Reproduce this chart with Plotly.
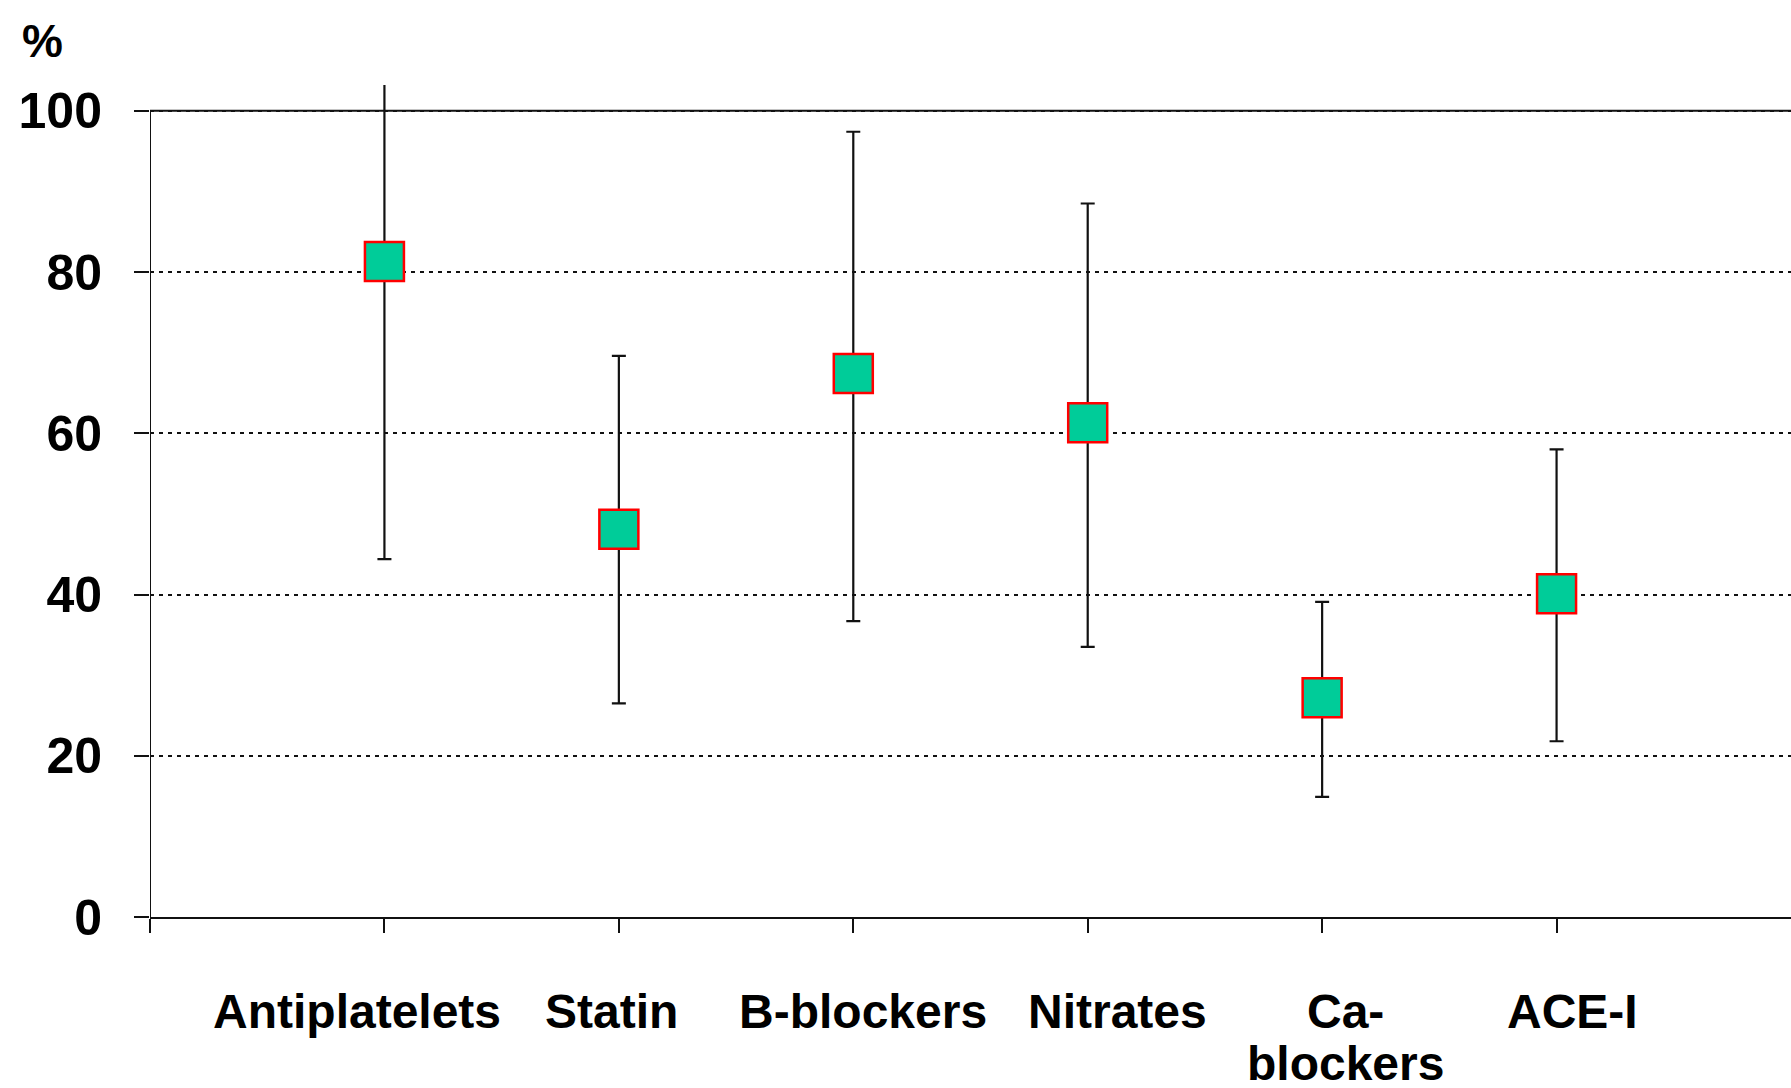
import plotly.graph_objects as go

# Drug classes and their percentage with lower / upper range limits
categories = ["Antiplatelets", "Statin", "B-blockers", "Nitrates", "Ca-\nblockers", "ACE-I"]
mean_pct = [81.3, 48.1, 67.4, 61.3, 27.2, 40.1]
upper_pct = [104.0, 69.6, 97.4, 88.5, 39.1, 58.0]
lower_pct = [44.4, 26.5, 36.7, 33.5, 14.9, 21.8]
y_ticks = [0, 20, 40, 60, 80, 100]

# horizontal nudge (px) of each category caption under its tick
label_nudge = [-27, -7, 10, 30, 23, 16]

positions = list(range(1, len(categories) + 1))
err_plus = [u - m for u, m in zip(upper_pct, mean_pct)]
err_minus = [m - l for m, l in zip(mean_pct, lower_pct)]

FONT = "Liberation Sans, Arial, sans-serif"
Y_TOP = 100
Y_RANGE_MAX = 103.2
X_RANGE_MAX = len(categories) + 1
CAPTION_OFFSET = 66   # px from x axis to first caption line
CAPTION_LINE = 52     # px between caption lines

fig = go.Figure()
fig.add_trace(go.Scatter(
    x=positions,
    y=mean_pct,
    mode="markers",
    marker=dict(symbol="square", size=39, color="#00CC99",
                line=dict(color="#FF0000", width=2.5)),
    error_y=dict(type="data", symmetric=False, array=err_plus, arrayminus=err_minus,
                 color="#111111", thickness=2.2, width=7),
    cliponaxis=True,
    showlegend=False,
))

# left axis line (stops at 100) and the solid top rule at 100
fig.add_shape(type="line", xref="x", yref="y", x0=0, x1=0, y0=0, y1=Y_TOP,
              line=dict(color="#111111", width=2), layer="above")
fig.add_shape(type="line", xref="x", yref="y", x0=0, x1=X_RANGE_MAX, y0=Y_TOP, y1=Y_TOP,
              line=dict(color="#111111", width=2), layer="below")

# category captions, one annotation per text line for tight line spacing
for pos, name, dx in zip(positions, categories, label_nudge):
    for i, line in enumerate(name.split("\n")):
        fig.add_annotation(text=f"<b>{line}</b>", xref="x", yref="paper",
                           x=pos, y=0, xanchor="center", yanchor="top",
                           xshift=dx, yshift=-(CAPTION_OFFSET + i * CAPTION_LINE),
                           showarrow=False,
                           font=dict(family=FONT, size=48, color="#000000"))

fig.add_annotation(text="<b>%</b>", xref="paper", yref="paper",
                   x=-0.079, y=1.087, xanchor="left", yanchor="top",
                   showarrow=False, font=dict(family=FONT, size=46, color="#000000"))

fig.update_layout(
    width=1791, height=1088,
    margin=dict(l=150, r=0, t=85, b=171),
    paper_bgcolor="white", plot_bgcolor="white",
    font=dict(family=FONT, color="#000000"),
    xaxis=dict(
        range=[0, X_RANGE_MAX],
        tickvals=[0] + positions,
        ticktext=[""] * (len(positions) + 1),
        ticks="outside", ticklen=14, tickwidth=2, tickcolor="#111111",
        showline=True, linecolor="#111111", linewidth=2,
        showgrid=False, zeroline=False, automargin=False,
        fixedrange=True,
    ),
    yaxis=dict(
        range=[0, Y_RANGE_MAX],
        tickvals=y_ticks,
        ticktext=[f"<b>{v}</b>" for v in y_ticks],
        ticks="outside", ticklen=15, tickwidth=2, tickcolor="#111111",
        ticklabelstandoff=22,
        showline=False, zeroline=False, automargin=False,
        showgrid=True, gridcolor="#111111", gridwidth=2, griddash="4px,5px",
        tickfont=dict(family=FONT, size=50, color="#000000"),
        fixedrange=True,
    ),
)

fig.write_html("out.html")
